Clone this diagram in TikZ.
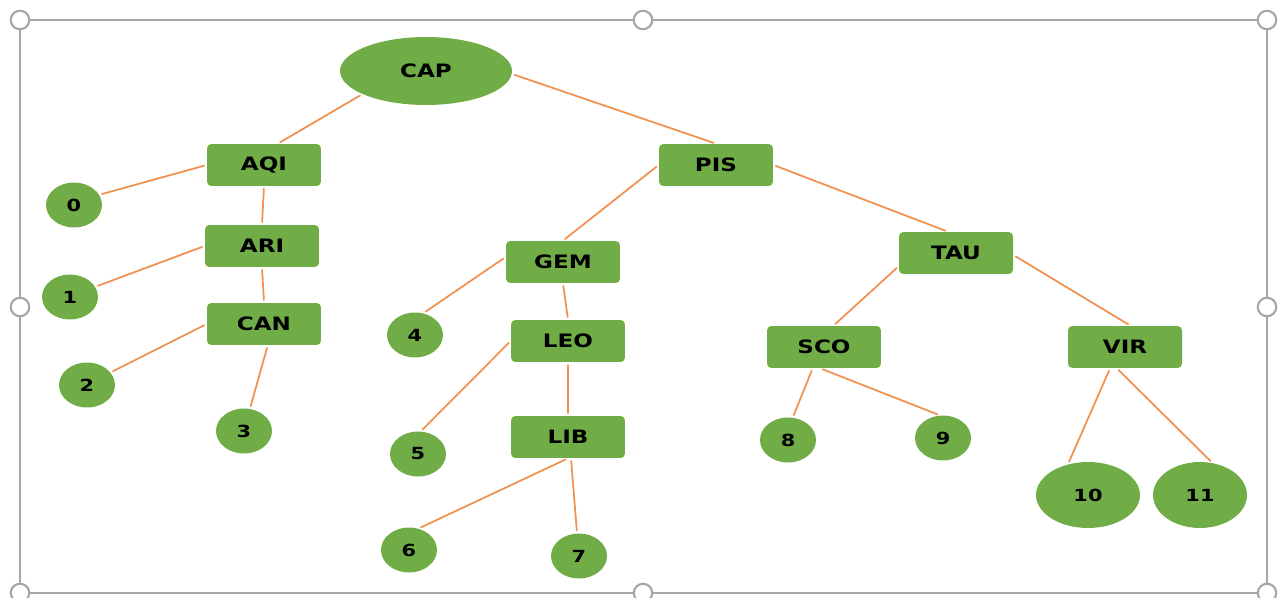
\documentclass[tikz,border=0pt]{standalone}
\usepackage{fontspec}
\setmainfont{DejaVu Sans}[FakeStretch=1.25]
\usepackage{tikz}
\usetikzlibrary{shapes.geometric}

\definecolor{leafgreen}{HTML}{70AD47}
\definecolor{linkorange}{RGB}{240,145,80}
\definecolor{framegray}{RGB}{166,166,166}

\begin{document}
\begin{tikzpicture}[
    x=0.02cm, y=-0.02cm,
    font=\bfseries,
    line cap=round,
    line join=round,
    box/.style={rectangle, rounded corners=2.5pt, fill=leafgreen, minimum width=2.28cm, minimum height=0.84cm, inner sep=0pt, font=\bfseries\fontsize{10.5}{12}\selectfont},
    leaf/.style={ellipse, fill=leafgreen, minimum width=1.12cm, minimum height=0.9cm, inner sep=0pt, font=\bfseries\fontsize{9.5}{11}\selectfont},
    link/.style={linkorange, line width=1pt, shorten >=1.5pt, shorten <=1.5pt},
    handle/.style={circle, draw=framegray, fill=white, line width=1.2pt, minimum size=0.37cm, inner sep=0pt}
]

% --- Definitions ---
\def\fxL{20}   % frame left
\def\fxR{1267} % frame right
\def\fyT{20}   % frame top
\def\fyB{593}  % frame bottom

\useasboundingbox (0,0) rectangle (1278,598);

% --- Selection frame ---
\draw[framegray, line width=1.2pt] (\fxL,\fyT) rectangle (\fxR,\fyB);

% --- Root ---
\node[ellipse, fill=leafgreen, minimum width=3.44cm, minimum height=1.36cm, inner sep=0pt, font=\bfseries\fontsize{10.5}{12}\selectfont] (CAP) at (426,71) {CAP};

% --- Left branch ---
\node[box] (AQI) at (264,165) {AQI};
\node[box] (ARI) at (262,246) {ARI};
\node[box] (CAN) at (264,324) {CAN};
\node[leaf] (n0) at (74,205) {0};
\node[leaf] (n1) at (70,297) {1};
\node[leaf] (n2) at (87,385) {2};
\node[leaf] (n3) at (244,431) {3};

% --- Middle branch ---
\node[box] (PIS) at (716,165) {PIS};
\node[box] (GEM) at (563,262) {GEM};
\node[box] (LEO) at (568,341) {LEO};
\node[box] (LIB) at (568,437) {LIB};
\node[leaf] (n4) at (415,335) {4};
\node[leaf] (n5) at (418,454) {5};
\node[leaf] (n6) at (409,550) {6};
\node[leaf] (n7) at (579,556) {7};

% --- Right branch ---
\node[box] (TAU) at (956,253) {TAU};
\node[box] (SCO) at (824,347) {SCO};
\node[box] (VIR) at (1125,347) {VIR};
\node[leaf] (n8) at (788,440) {8};
\node[leaf] (n9) at (943,438) {9};
\node[leaf, minimum width=2.08cm, minimum height=1.32cm] (n10) at (1088,495) {10};
\node[leaf, minimum width=1.88cm, minimum height=1.32cm] (n11) at (1200,495) {11};

% --- Links ---
\draw[link] (CAP.200) -- (AQI.57);
\draw[link] (CAP.-2) -- (PIS.north);
\draw[link] (AQI.west) -- (n0.22);
\draw[link] (AQI.south) -- (ARI.north);
\draw[link] (ARI.west) -- (n1.22);
\draw[link] (ARI.south) -- (CAN.north);
\draw[link] (CAN.west) -- (n2.28);
\draw[link] (CAN.-80) -- (n3.75);
\draw[link] (PIS.west) -- (GEM.north);
\draw[link] (PIS.east) -- (TAU.111);
\draw[link] (GEM.175) -- (n4.69);
\draw[link] (GEM.south) -- (LEO.north);
\draw[link] (LEO.west) -- (n5.83);
\draw[link] (LEO.south) -- (LIB.north);
\draw[link] (LIB.south) -- (n6.66);
\draw[link] (LIB.-82) -- (n7.95);
\draw[link] (TAU.193) -- (SCO.66);
\draw[link] (TAU.-2) -- (VIR.76);
\draw[link] (SCO.242) -- (n8.78);
\draw[link] (SCO.260) -- (n9.98);
\draw[link] (VIR.235) -- (n10.123);
\draw[link] (VIR.249) -- (n11.69);

% --- Frame handles ---
\foreach \hx/\hy in {\fxL/\fyT, 643/\fyT, \fxR/\fyT, \fxL/307, \fxR/307, \fxL/\fyB, 643/\fyB, \fxR/\fyB}
    \node[handle] at (\hx,\hy) {};

\end{tikzpicture}
\end{document}
